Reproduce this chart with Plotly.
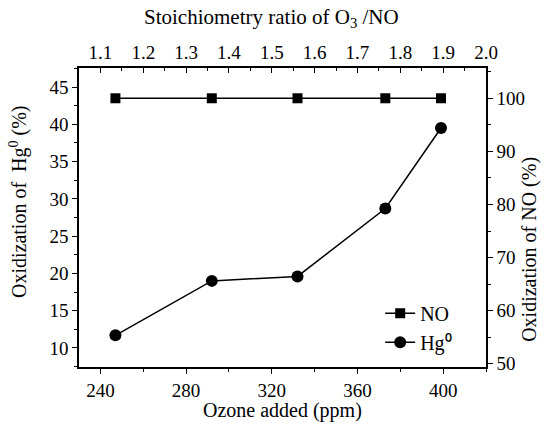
import plotly.graph_objects as go

ozone_ppm = [247, 292, 332, 373, 399]
no_oxidation = [100, 100, 100, 100, 100]
hg_oxidation = [11.7, 19.0, 19.6, 28.7, 39.5]
ratio_range = [1.05, 2.0]

FONT = "Liberation Serif"
TICK = 19
TITLE = 20
fig = go.Figure()

fig.add_trace(go.Scatter(
    x=ozone_ppm, y=no_oxidation, name="NO", xaxis="x", yaxis="y2",
    mode="lines+markers", line=dict(color="black", width=1.5),
    marker=dict(symbol="square", size=10, color="black")))
fig.add_trace(go.Scatter(
    x=ozone_ppm, y=hg_oxidation, name="Hg⁰", xaxis="x", yaxis="y",
    mode="lines+markers", line=dict(color="black", width=1.5),
    marker=dict(symbol="circle", size=12, color="black")))
# helper trace to carry the top axis
fig.add_trace(go.Scatter(
    x=ratio_range, y=[20, 20], xaxis="x2", yaxis="y", mode="markers",
    marker=dict(opacity=0), showlegend=False, hoverinfo="skip"))

axis_common = dict(showline=True, linecolor="black", linewidth=1.5, showgrid=False,
                   zeroline=False, tickcolor="black", tickwidth=1.2, automargin=False,
                   tickfont=dict(family=FONT, size=TICK, color="black"))

titles = [
    dict(text="Ozone added (ppm)", x=0.5, y=-0.145, textangle=0, size=TITLE),
    dict(text="Stoichiometry ratio of O<sub>3</sub> /NO", x=0.474, y=1.168, textangle=0, size=21),
    dict(text="Oxidization of  Hg<sup>0</sup> (%)", x=-0.150, y=0.555, textangle=-90, size=TITLE),
    dict(text="Oxidization of NO (%)", x=1.108, y=0.395, textangle=-90, size=TITLE),
]
annotations = [dict(xref="paper", yref="paper", xanchor="center", yanchor="middle",
                    showarrow=False, text=t["text"], x=t["x"], y=t["y"], textangle=t["textangle"],
                    font=dict(family=FONT, size=t["size"], color="black"))
               for t in titles]

fig.update_layout(
    width=544, height=424,
    margin=dict(l=79, r=58, t=68, b=57),
    paper_bgcolor="white", plot_bgcolor="white",
    font=dict(family=FONT, size=TITLE, color="black"),
    xaxis=dict(range=[230, 420], dtick=40, tick0=240, ticks="outside", ticklen=5,
               minor=dict(dtick=20, tick0=240, ticks="outside", ticklen=3, tickcolor="black"),
               **axis_common),
    xaxis2=dict(range=ratio_range, overlaying="x", side="top", dtick=0.1, tick0=1.1,
                tickformat=".1f", ticks="inside", ticklen=5,
                minor=dict(dtick=0.05, tick0=1.1, ticks="inside", ticklen=3, tickcolor="black"),
                **axis_common),
    yaxis=dict(range=[7.45, 47.55], dtick=5, tick0=10, ticks="outside", ticklen=5,
               minor=dict(dtick=2.5, tick0=10, ticks="outside", ticklen=3, tickcolor="black"),
               **axis_common),
    yaxis2=dict(range=[49.4, 105.7], overlaying="y", side="right", dtick=10, tick0=50,
                ticks="outside", ticklen=5,
                minor=dict(dtick=5, tick0=50, ticks="outside", ticklen=3, tickcolor="black"),
                **axis_common),
    annotations=annotations,
    legend=dict(x=0.74, y=0.245, xanchor="left", yanchor="top", bgcolor="rgba(0,0,0,0)",
                font=dict(family=FONT, size=TITLE), tracegroupgap=0, itemwidth=30),
    showlegend=True,
)

fig.write_html("out.html", config={"displayModeBar": False},
               post_script="document.body.style.margin='0px';")
